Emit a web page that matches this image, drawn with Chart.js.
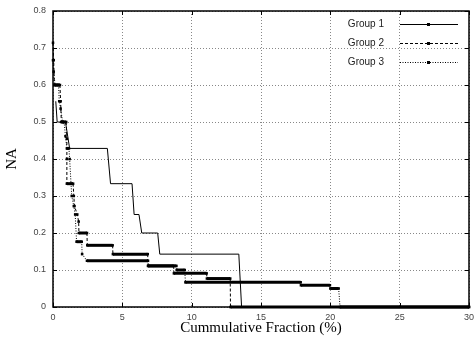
<!DOCTYPE html>
<html>
<head>
<meta charset="utf-8">
<script src="https://cdn.jsdelivr.net/npm/chart.js@4/dist/chart.umd.min.js"></script>
<style>
html,body{margin:0;padding:0;background:#fff;}
#wrap{width:474px;height:339px;position:relative;}
</style>
</head>
<body>
<div id="wrap"><canvas id="c" width="474" height="339"></canvas></div>
<script>
// ---- data ----
const seriesNames = ["Group 1", "Group 2", "Group 3"];
const xTicks = [0, 5, 10, 15, 20, 25, 30];
const yTicks = [0, 0.1, 0.2, 0.3, 0.4, 0.5, 0.6, 0.7, 0.8];

const group1X = [0.2, 0.3, 0.9, 1.2, 3.92, 4.15, 5.7, 5.85, 6.2, 6.4, 7.55, 7.7, 13.4, 13.6, 30];
const group1Y = [0.556, 0.5, 0.5, 0.4286, 0.4286, 0.3333, 0.3333, 0.25, 0.25, 0.2, 0.2, 0.1429, 0.1429, 0, 0];

const group2X = [0, 0.05, 0.1, 0.5, 0.55, 0.6, 0.95, 1.0, 1.0, 1.0, 1.45, 1.5, 1.55, 1.75, 1.85, 1.87, 2.45, 2.47, 4.3, 4.32, 6.83, 6.85, 8.7, 8.72, 11.08, 11.1, 12.78, 12.8, 30];
const group2Y = [0.714, 0.667, 0.6, 0.6, 0.556, 0.5, 0.5, 0.4545, 0.4, 0.3333, 0.3333, 0.3, 0.2727, 0.25, 0.2308, 0.2, 0.2, 0.1667, 0.1667, 0.1429, 0.1429, 0.1111, 0.1111, 0.0909, 0.0909, 0.0769, 0.0769, 0, 0];

const group3X = [0, 0.05, 0.15, 0.4, 0.45, 0.55, 0.7, 0.8, 0.9, 1.0, 1.15, 1.2, 1.3, 1.35, 1.5, 1.6, 1.7, 2.07, 2.1, 2.45, 6.85, 6.87, 8.9, 8.92, 9.5, 9.55, 17.86, 17.88, 19.97, 20.0, 20.6, 20.7, 30];
const group3Y = [0.667, 0.636, 0.6, 0.6, 0.556, 0.536, 0.5, 0.5, 0.4615, 0.4286, 0.4286, 0.4, 0.3333, 0.3, 0.2727, 0.25, 0.1765, 0.1765, 0.1429, 0.125, 0.125, 0.1111, 0.1111, 0.1, 0.1, 0.0667, 0.0667, 0.0588, 0.0588, 0.05, 0.05, 0, 0];

function pts(xs, ys){ return xs.map((x,i)=>({x:x, y:ys[i]})); }

const dashes = [[], [3,2], [1,1.5]];

function seg(idx){
  return {
    borderWidth: ctx => {
      if (idx === 0) return 1;
      return Math.abs(ctx.p0.parsed.y - ctx.p1.parsed.y) < 1e-9 ? 3 : 1;
    },
    borderDash: ctx => {
      if (idx === 0) return [];
      return Math.abs(ctx.p0.parsed.y - ctx.p1.parsed.y) < 1e-9 ? [] : dashes[idx];
    }
  };
}

const frame = {
  id: 'frame',
  beforeDatasetsDraw(chart){
    const {ctx, chartArea:a, scales:{x, y}} = chart;
    ctx.save();
    ctx.strokeStyle = '#000';
    ctx.lineWidth = 1;
    xTicks.forEach(v => {
      const px = Math.round(x.getPixelForValue(v)) + 0.5;
      ctx.beginPath();
      ctx.moveTo(px, a.bottom); ctx.lineTo(px, a.bottom - 4);
      ctx.moveTo(px, a.top); ctx.lineTo(px, a.top + 4);
      ctx.stroke();
    });
    yTicks.forEach(v => {
      const py = Math.round(y.getPixelForValue(v)) + 0.5;
      ctx.beginPath();
      ctx.moveTo(a.left, py); ctx.lineTo(a.left + 4, py);
      ctx.moveTo(a.right, py); ctx.lineTo(a.right - 4, py);
      ctx.stroke();
    });
    ctx.lineWidth = 1.5;
    ctx.strokeRect(a.left, a.top, a.right - a.left, a.bottom - a.top);
    ctx.restore();
  },
  afterDatasetsDraw(chart){
    const {ctx} = chart;
    ctx.save();
    ctx.font = '10px "Liberation Sans", Arial, sans-serif';
    ctx.textAlign = 'right';
    ctx.textBaseline = 'middle';
    const rows = [24, 43, 62];
    seriesNames.forEach((name, i) => {
      const yy = rows[i];
      ctx.fillStyle = '#222';
      ctx.fillText(name, 384, yy);
      ctx.strokeStyle = '#000';
      ctx.lineWidth = 1;
      ctx.setLineDash(dashes[i]);
      ctx.beginPath();
      ctx.moveTo(400, yy + 0.5); ctx.lineTo(458, yy + 0.5);
      ctx.stroke();
      ctx.setLineDash([]);
      ctx.fillStyle = '#000';
      ctx.fillRect(427, yy - 1, 3, 3);
    });
    ctx.restore();
  }
};

new Chart(document.getElementById('c'), {
  type: 'line',
  data: {
    datasets: [
      { label: seriesNames[0], data: pts(group1X, group1Y), borderColor: '#000', backgroundColor: '#000',
        borderWidth: 1, pointRadius: 0, segment: seg(0), clip: 4 },
      { label: seriesNames[1], data: pts(group2X, group2Y), borderColor: '#000', backgroundColor: '#000',
        borderWidth: 1, borderDash: dashes[1], pointStyle: 'rect', pointRadius: 1.8, pointBorderWidth: 0, segment: seg(1), clip: 4 },
      { label: seriesNames[2], data: pts(group3X, group3Y), borderColor: '#000', backgroundColor: '#000',
        borderWidth: 1, borderDash: dashes[2], pointStyle: 'rect', pointRadius: 1.8, pointBorderWidth: 0, segment: seg(2), clip: 4 }
    ]
  },
  options: {
    responsive: false,
    animation: false,
    events: [],
    layout: { padding: { top: 11, right: 5, left: 0, bottom: 0 } },
    plugins: { legend: { display: false }, tooltip: { enabled: false } },
    elements: { line: { tension: 0 } },
    scales: {
      x: {
        type: 'linear', min: 0, max: 30,
        afterBuildTicks: s => { s.ticks = xTicks.map(v => ({value: v})); },
        afterFit: s => { s.height = 32; s.paddingLeft = 0; s.paddingRight = 0; },
        border: { display: false, dash: [1, 2] },
        grid: { color: '#888', lineWidth: 1, drawTicks: false },
        ticks: { padding: 5, color: '#444', font: { family: '"Liberation Sans", Arial, sans-serif', size: 9 }, maxRotation: 0,
          callback: v => String(v) },
        title: { display: true, text: 'Cummulative Fraction (%)', color: '#000',
          font: { family: '"Liberation Serif", "Times New Roman", serif', size: 15 }, padding: { top: 0, bottom: 2 } }
      },
      y: {
        type: 'linear', min: 0, max: 0.8,
        afterBuildTicks: s => { s.ticks = yTicks.map(v => ({value: v})); },
        afterFit: s => { s.width = 53; s.paddingTop = 0; s.paddingBottom = 0; },
        border: { display: false, dash: [1, 2] },
        grid: { color: '#888', lineWidth: 1, drawTicks: false },
        ticks: { padding: 7, color: '#444', font: { family: '"Liberation Sans", Arial, sans-serif', size: 9 },
          callback: v => String(Math.round(v * 10) / 10) },
        title: { display: true, text: 'NA', color: '#000',
          font: { family: '"Liberation Serif", "Times New Roman", serif', size: 15 }, padding: { top: 3, bottom: 0 } }
      }
    }
  },
  plugins: [frame]
});
</script>
</body>
</html>
